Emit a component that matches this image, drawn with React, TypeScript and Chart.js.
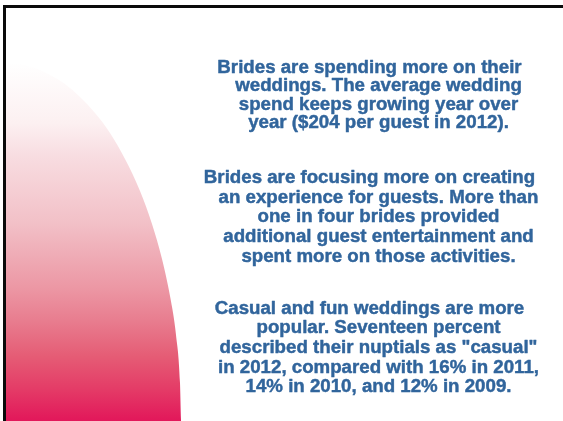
import React, { useEffect, useRef } from "react";
import { Chart, registerables } from "chart.js";

Chart.register(...registerables);

// Outline of the pink curved panel:
// horizontal position (px) and height of the curve above the bottom edge (px)
const edgeX = [6, 20, 35, 50, 65, 80, 95, 110, 125, 140, 152, 162, 170, 176, 180, 181];
const edgeHeight = [358, 357, 353, 346, 337, 324, 308, 288, 262, 230, 197, 162, 125, 86, 38, 0];

const paragraph1 = [
  "Brides are spending more on their",
  "weddings. The average wedding",
  "spend keeps growing year over",
  "year ($204 per guest in 2012).",
];
const paragraph2 = [
  "Brides are focusing more on creating",
  "an experience for guests. More than",
  "one in four brides provided",
  "additional guest entertainment and",
  "spent more on those activities.",
];
const paragraph3 = [
  "Casual and fun weddings are more",
  "popular. Seventeen percent",
  'described their nuptials as "casual"',
  "in 2012, compared with 16% in 2011,",
  "14% in 2010, and 12% in 2009.",
];

const W = 563;
const H = 421;

const slidePlugin = {
  id: "slideDecor",
  afterDraw(chart: any) {
    const ctx = chart.ctx as CanvasRenderingContext2D;
    ctx.save();
    // frame
    ctx.fillStyle = "#0a0a0a";
    ctx.fillRect(4, 5, W - 4, 3);
    ctx.fillRect(3, 5, 3, H - 5);
    // text
    ctx.fillStyle = "#31659c";
    ctx.strokeStyle = "#31659c";
    ctx.lineWidth = 0.45;
    ctx.lineJoin = "round";
    ctx.font = 'bold 18.7px "Liberation Sans", Arial, sans-serif';
    ctx.textAlign = "center";
    ctx.textBaseline = "alphabetic";
    const centerX = 378.5;
    const blocks: [string[], number, number][] = [
      [paragraph1, 73, 18.4],
      [paragraph2, 183, 19.7],
      [paragraph3, 313.5, 19.7],
    ];
    blocks.forEach(([lines, top, step]) => {
      lines.forEach((line, i) => {
        const cx = i === 0 ? centerX - 9 : centerX;
        ctx.fillText(line, cx, top + i * step);
        ctx.strokeText(line, cx, top + i * step);
      });
    });
    ctx.restore();
  },
};

export default function App() {
  const ref = useRef<HTMLCanvasElement | null>(null);
  useEffect(() => {
    if (!ref.current) return;
    const points = edgeX.map((x, i) => ({ x, y: edgeHeight[i] }));
    const chart = new Chart(ref.current, {
      type: "line",
      data: {
        datasets: [
          {
            data: points,
            fill: "start",
            borderWidth: 0,
            borderColor: "rgba(0,0,0,0)",
            pointRadius: 0,
            cubicInterpolationMode: "monotone",
            backgroundColor: (context: any) => {
              const c = context.chart;
              const g = c.ctx.createLinearGradient(0, 62, 0, H);
              g.addColorStop(0, "#ffffff");
              g.addColorStop(0.17, "#fcf0f1");
              g.addColorStop(0.26, "#f8dde1");
              g.addColorStop(0.45, "#f2c0c7");
              g.addColorStop(0.63, "#ec97a4");
              g.addColorStop(0.72, "#e87d8f");
              g.addColorStop(0.82, "#e55c75");
              g.addColorStop(0.91, "#e43c67");
              g.addColorStop(1, "#e2175a");
              return g;
            },
          },
        ],
      },
      options: {
        animation: false,
        responsive: false,
        maintainAspectRatio: false,
        layout: { padding: 0 },
        plugins: { legend: { display: false }, tooltip: { enabled: false } },
        scales: {
          x: { type: "linear", min: 0, max: W, display: false },
          y: { type: "linear", min: 0, max: H, display: false },
        },
      },
      plugins: [slidePlugin],
    } as any);
    return () => chart.destroy();
  }, []);
  return (
    <div style={{ position: "fixed", left: 0, top: 0, width: W, height: H, background: "#fff" }}>
      <canvas ref={ref} width={W} height={H} style={{ display: "block" }} />
    </div>
  );
}
